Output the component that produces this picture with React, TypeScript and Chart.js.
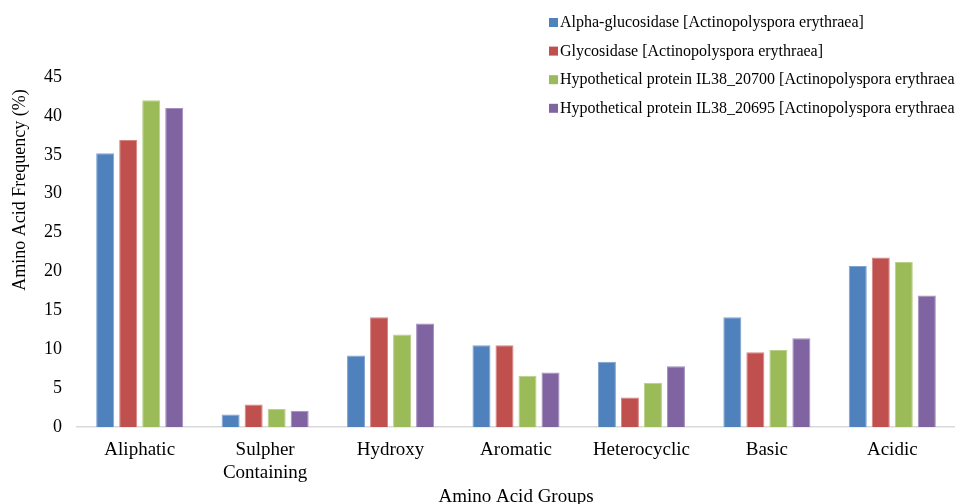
import React, { useEffect, useRef } from "react";
import { Chart, registerables } from "chart.js";

Chart.register(...registerables);

// Amino acid groups (x categories)
const groups: (string | string[])[] = [
  "Aliphatic",
  ["Sulpher", "Containing"],
  "Hydroxy",
  "Aromatic",
  "Heterocyclic",
  "Basic",
  "Acidic",
];

// Frequency (%) per protein
const alphaGlucosidase = [35.2, 1.6, 9.2, 10.5, 8.4, 14.1, 20.7];
const glycosidase = [36.9, 2.9, 14.1, 10.5, 3.8, 9.6, 21.8];
const protein20700 = [42.0, 2.3, 11.9, 6.6, 5.7, 9.9, 21.2];
const protein20695 = [41.0, 2.1, 13.3, 7.0, 7.8, 11.4, 16.9];

const seriesNames = [
  "Alpha-glucosidase [Actinopolyspora erythraea]",
  "Glycosidase [Actinopolyspora erythraea]",
  "Hypothetical protein IL38_20700 [Actinopolyspora erythraea]",
  "Hypothetical protein IL38_20695 [Actinopolyspora erythraea]",
];
const seriesColors = ["#4F81BD", "#C0504D", "#9BBB59", "#8064A2"];
const seriesEdges = ["#7FA3D1", "#D58482", "#B9D08A", "#A28FBD"];

const yMin = 0;
const yMax = 45;
const yStep = 5;

const yTitle = "Amino Acid Frequency (%)";
const xTitle = "Amino Acid Groups";

const SERIF = "'Liberation Serif', 'Times New Roman', serif";

// Vertical legend in the top-right corner
const sideLegend = {
  id: "sideLegend",
  afterDraw(chart: Chart) {
    const ctx = chart.ctx;
    ctx.save();
    ctx.font = `16px ${SERIF}`;
    ctx.textBaseline = "middle";
    ctx.textAlign = "left";
    chart.data.datasets.forEach((ds: any, i: number) => {
      const cy = 22.5 + i * 28.6;
      ctx.fillStyle = ds.backgroundColor;
      ctx.fillRect(549, cy - 4.5, 9, 9);
      ctx.fillStyle = "#000";
      ctx.fillText(ds.label, 560, cy + 0.5);
    });
    ctx.restore();
  },
};

// Rotated y-axis title
const yAxisTitle = {
  id: "yAxisTitle",
  afterDraw(chart: Chart) {
    const ctx = chart.ctx;
    ctx.save();
    ctx.font = `18px ${SERIF}`;
    ctx.fillStyle = "#000";
    ctx.textAlign = "center";
    ctx.textBaseline = "middle";
    ctx.translate(20, 190);
    ctx.rotate(-Math.PI / 2);
    ctx.fillText(yTitle, 0, 0);
    ctx.restore();
  },
};

export default function App() {
  const canvasRef = useRef<HTMLCanvasElement | null>(null);

  useEffect(() => {
    const canvas = canvasRef.current;
    if (!canvas) return;
    const values = [alphaGlucosidase, glycosidase, protein20700, protein20695];
    const chart = new Chart(canvas, {
      type: "bar",
      data: {
        labels: groups,
        datasets: values.map((data, i) => ({
          label: seriesNames[i],
          data,
          backgroundColor: seriesColors[i],
          borderColor: seriesEdges[i],
          borderWidth: 1,
          categoryPercentage: 0.734,
          barPercentage: 0.783,
        })),
      },
      options: {
        responsive: false,
        maintainAspectRatio: false,
        animation: false,
        layout: { padding: { top: 77, left: 0, right: 0, bottom: 0 } },
        plugins: {
          legend: { display: false },
          tooltip: { enabled: false },
        },
        scales: {
          x: {
            grid: { display: false, drawTicks: false },
            border: { display: true, color: "#D9D9D9", width: 1.5 },
            ticks: {
              color: "#000",
              font: { family: SERIF, size: 19 },
              padding: 12,
              maxRotation: 0,
              autoSkip: false,
            },
            title: {
              display: true,
              text: xTitle,
              color: "#000",
              font: { family: SERIF, size: 19 },
              padding: { top: 0, bottom: 3.6 },
            },
            afterFit(scale: any) {
              scale.height = 85;
            },
          },
          y: {
            min: yMin,
            max: yMax,
            grid: { display: false, drawTicks: false },
            border: { display: false },
            ticks: {
              stepSize: yStep,
              color: "#000",
              font: { family: SERIF, size: 18 },
              padding: 15,
            },
            afterFit(scale: any) {
              scale.width = 77;
            },
          },
        },
      },
      plugins: [sideLegend, yAxisTitle],
    });
    return () => chart.destroy();
  }, []);

  return (
    <div
      style={{
        position: "absolute",
        left: 0,
        top: 0,
        width: 955,
        height: 504,
        overflow: "hidden",
        background: "#fff",
      }}
    >
      <canvas
        ref={canvasRef}
        width={955}
        height={512}
        style={{ display: "block", width: 955, height: 512 }}
      />
    </div>
  );
}
